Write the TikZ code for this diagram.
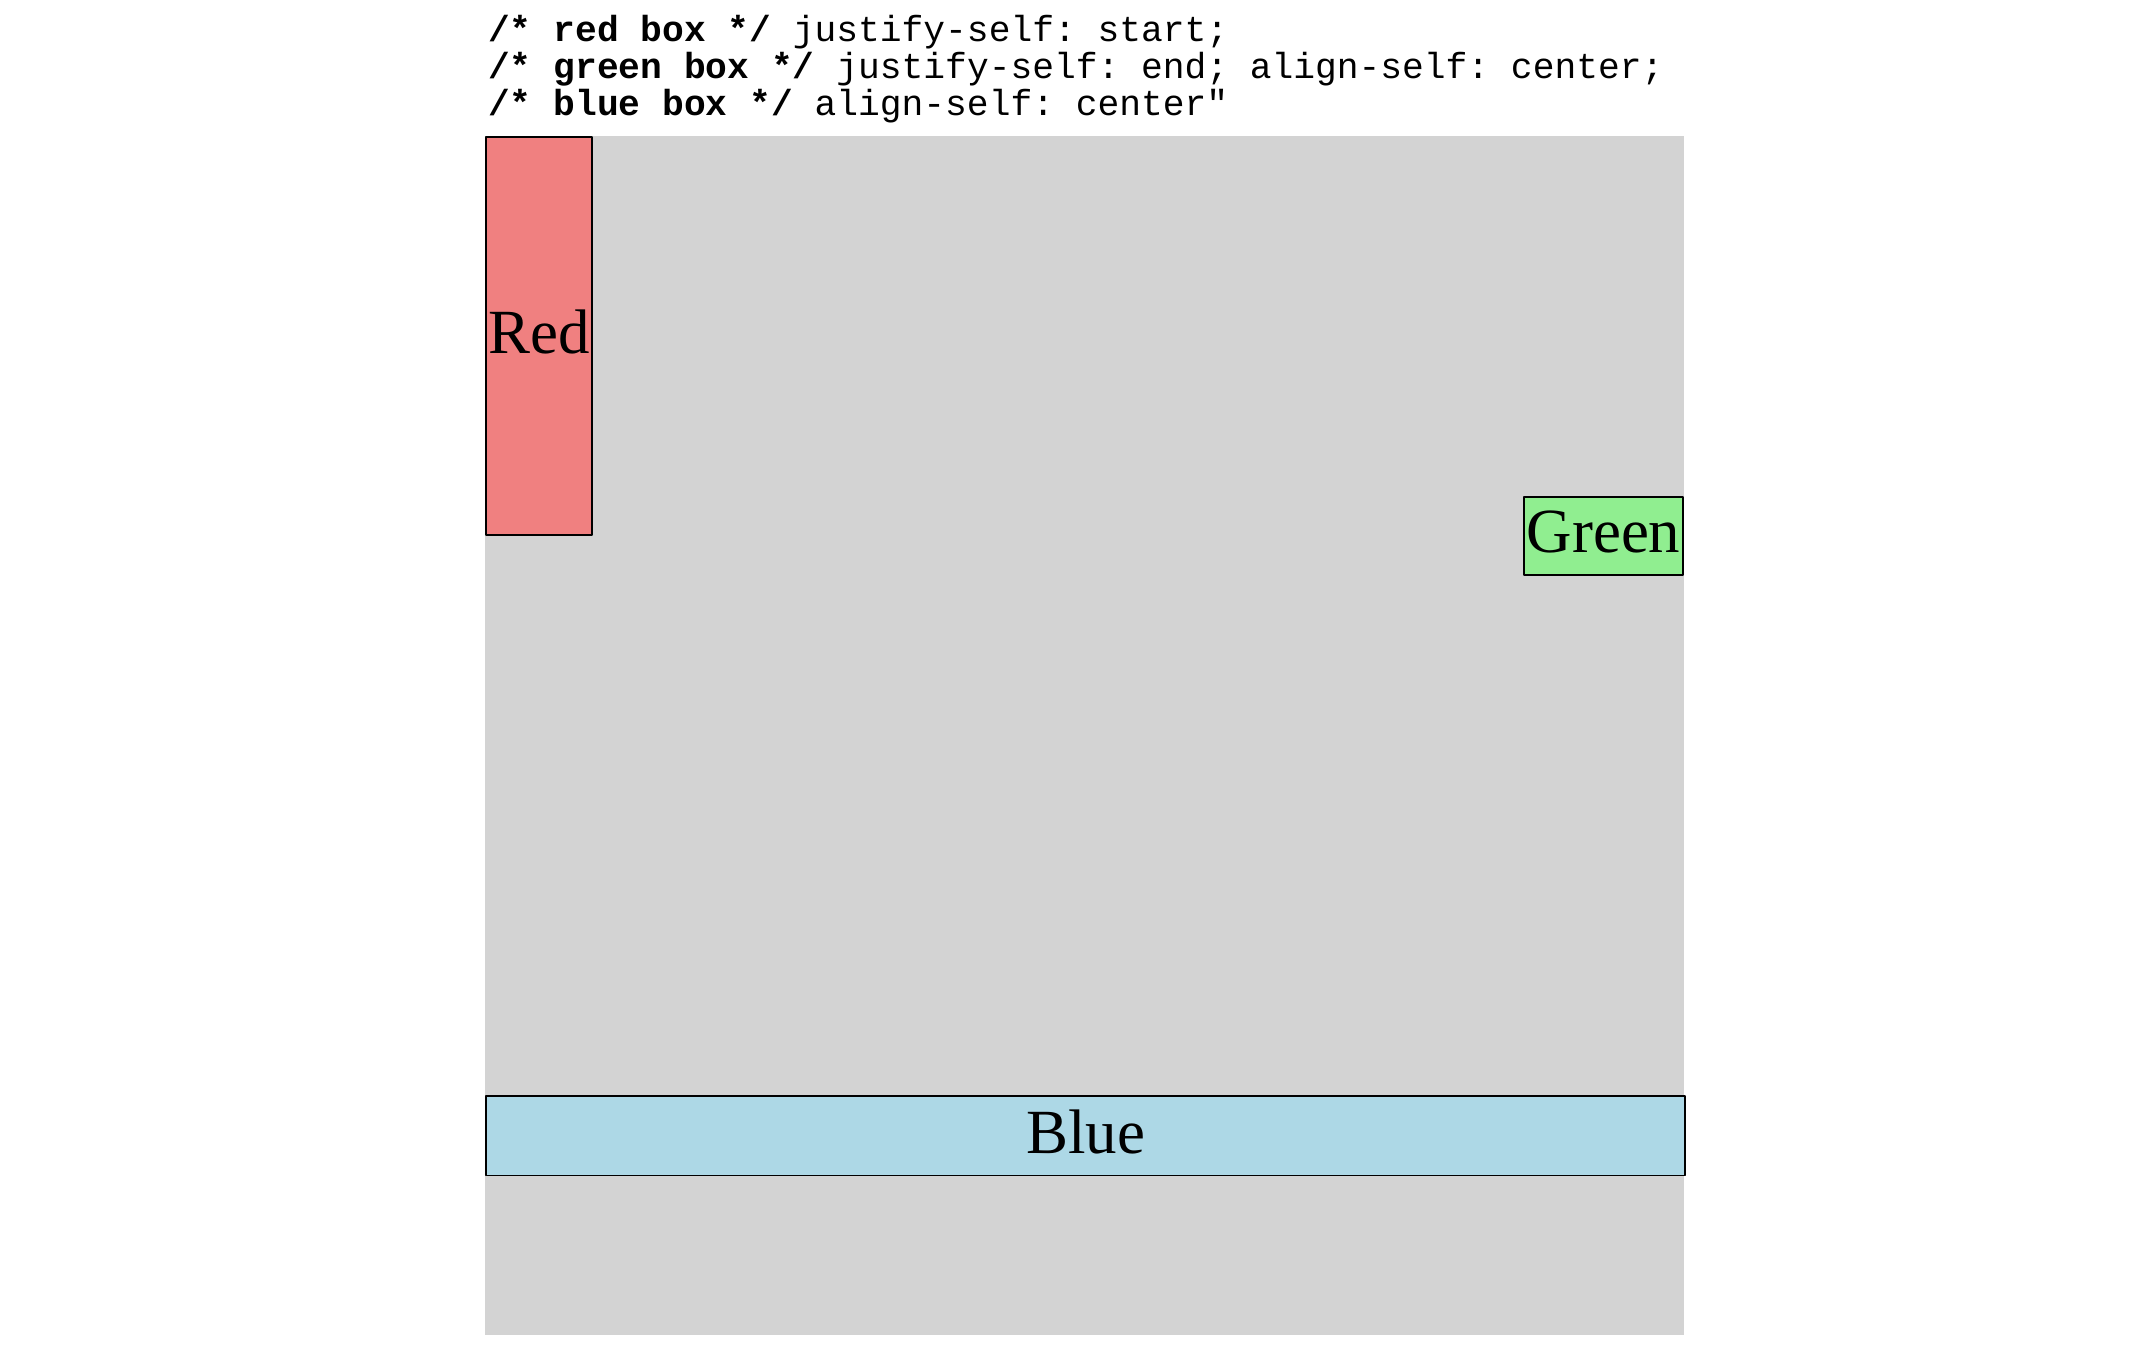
\documentclass[tikz,border=0pt]{standalone}
\usepackage{fontspec}
\setmainfont{Liberation Serif}
\setmonofont{Liberation Mono}
\usetikzlibrary{positioning}
\definecolor{gridgray}{HTML}{D3D3D3}
\definecolor{redfill}{HTML}{F08080}
\definecolor{greenfill}{HTML}{90EE90}
\definecolor{bluefill}{HTML}{ADD8E6}
\tikzset{
  itembox/.style={draw=black,line width=0.7pt,inner sep=0pt,text depth=3pt,
    font=\fontsize{22.9}{26}\selectfont},
  codeline/.style={anchor=base west,inner sep=0pt,
    font=\ttfamily\fontsize{13.2}{13.5}\selectfont}
}

\begin{document}
\begin{tikzpicture}[x=0.5pt,y=-0.5pt,line join=round]
    \useasboundingbox (0,0) rectangle (1568,980);
    % the code above the grid
    \node[codeline] (line1) at (355,30) {\textbf{/* red box */} justify-self: start;};
    \node[codeline] (line2) at (355,57) {\textbf{/* green box */} justify-self: end; align-self: center;};
    \node[codeline] (line3) at (355,84) {\textbf{/* blue box */} align-self: center"};
    % grid container
    \fill[gridgray] (353,99) rectangle (1226,972);
    % grid items
    \node[itembox,fill=redfill,anchor=north west,minimum width=38.5pt,minimum height=145pt] (red) at (353,99) {Red};
    \node[itembox,fill=greenfill,anchor=north east,minimum width=58pt,minimum height=28.5pt] (green) at (1226,361) {Green};
    \node[itembox,fill=bluefill,anchor=north west,minimum width=436.5pt,minimum height=29pt] (blue) at (353,797) {Blue};
\end{tikzpicture}
\end{document}
